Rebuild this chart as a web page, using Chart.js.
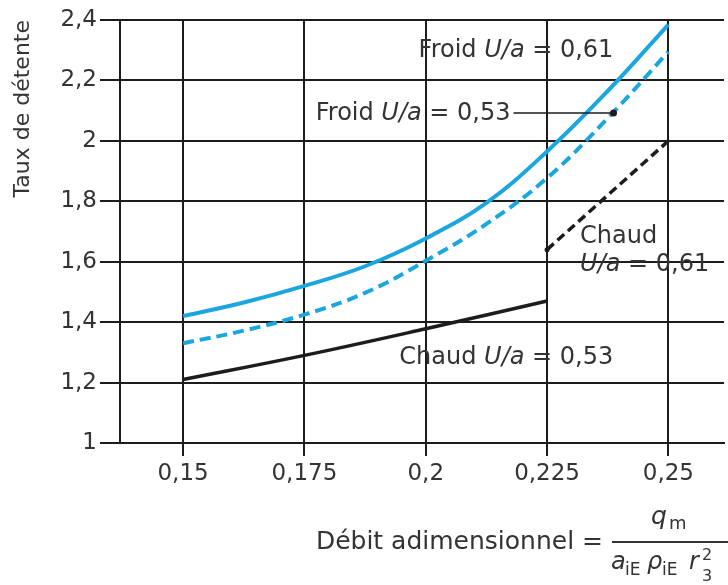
<!DOCTYPE html>
<html>
<head>
<meta charset="utf-8">
<script src="https://cdn.jsdelivr.net/npm/chart.js@4.4.0/dist/chart.umd.min.js"></script>
<style>
  body { margin: 0; background: #fff; }
  canvas { display: block; }
</style>
</head>
<body>
<canvas id="chart" width="728" height="585"></canvas>
<script>
// débit adimensionnel (x) / taux de détente (y)
const debitFroid = [0.15, 0.1625, 0.175, 0.1875, 0.2, 0.2125, 0.225, 0.2375, 0.25];
const froid061 = [1.42, 1.465, 1.52, 1.585, 1.677, 1.795, 1.965, 2.165, 2.385];
const froid053 = [1.33, 1.372, 1.425, 1.497, 1.603, 1.725, 1.877, 2.075, 2.295];
const debitChaud053 = [0.15, 0.175, 0.2, 0.225];
const chaud053 = [1.21, 1.29, 1.378, 1.47];
const debitChaud061 = [0.225, 0.25];
const chaud061 = [1.64, 2.0];

const xTicks = [0.15, 0.175, 0.2, 0.225, 0.25];
const xTickLabels = ["0,15", "0,175", "0,2", "0,225", "0,25"];
const yTicks = [1, 1.2, 1.4, 1.6, 1.8, 2, 2.2, 2.4];
const yTickLabels = ["1", "1,2", "1,4", "1,6", "1,8", "2", "2,2", "2,4"];

const CYAN = "#1ca6de";
const NOIR = "#1c1c1c";
const TEXTE = "#333333";
const POLICE = '"DejaVu Sans"';

function points(xs, ys) {
  return xs.map((x, i) => ({ x: x, y: ys[i] }));
}

// étiquettes des courbes (en coordonnées du graphique)
const etiquettes = [
  { x: 0.2186, y: 2.297, align: "center", runs: [["Froid ", 0], ["U/a", 1], [" = 0,61", 0]] },
  { x: 0.1974, y: 2.089, align: "center", runs: [["Froid ", 0], ["U/a", 1], [" = 0,53", 0]], repere: { x: 0.2387, y: 2.092 } },
  { x: 0.2318, y: 1.682, align: "left", runs: [["Chaud", 0]] },
  { x: 0.2318, y: 1.589, align: "left", runs: [["U/a", 1], [" = 0,61", 0]] },
  { x: 0.2166, y: 1.281, align: "center", runs: [["Chaud ", 0], ["U/a", 1], [" = 0,53", 0]] },
];

function police(taille, italique) {
  return (italique ? "italic " : "") + taille + "px " + POLICE;
}

function ecrire(ctx, runs, x, y, align, taille) {
  let total = 0;
  runs.forEach(([t, it]) => {
    ctx.font = police(taille, it);
    total += ctx.measureText(t).width;
  });
  let cx = align === "center" ? x - total / 2 : align === "right" ? x - total : x;
  ctx.textAlign = "left";
  ctx.textBaseline = "middle";
  runs.forEach(([t, it]) => {
    ctx.font = police(taille, it);
    ctx.fillText(t, cx, y);
    cx += ctx.measureText(t).width;
  });
  return cx;
}

const annotations = {
  id: "annotations",
  afterDraw(chart) {
    const ctx = chart.ctx;
    const sx = chart.scales.x;
    const sy = chart.scales.y;
    ctx.save();
    ctx.fillStyle = TEXTE;

    etiquettes.forEach((e) => {
      const fin = ecrire(ctx, e.runs, sx.getPixelForValue(e.x), sy.getPixelForValue(e.y), e.align, 24);
      if (e.repere) {
        const px = sx.getPixelForValue(e.repere.x);
        const py = sy.getPixelForValue(e.repere.y);
        ctx.strokeStyle = NOIR;
        ctx.lineWidth = 1.5;
        ctx.beginPath();
        ctx.moveTo(fin + 3, py);
        ctx.lineTo(px, py);
        ctx.stroke();
        ctx.fillStyle = NOIR;
        ctx.beginPath();
        ctx.arc(px, py, 3.5, 0, Math.PI * 2);
        ctx.fill();
        ctx.fillStyle = TEXTE;
      }
    });

    // titre de l'axe x avec la fraction
    ecrire(ctx, [["Débit adimensionnel =", 0]], 603, 542, "right", 25);
    ctx.strokeStyle = TEXTE;
    ctx.lineWidth = 2;
    ctx.beginPath();
    ctx.moveTo(612, 542);
    ctx.lineTo(740, 542);
    ctx.stroke();

    ctx.textBaseline = "alphabetic";
    ctx.textAlign = "left";
    ctx.font = police(25, true);
    ctx.fillText("q", 651, 524);
    ctx.font = police(18, false);
    ctx.fillText("m", 669, 529);

    ctx.font = police(24, true);
    ctx.fillText("a", 611, 569);
    ctx.font = police(17, false);
    ctx.fillText("iE", 625, 575);
    ctx.font = police(24, true);
    ctx.fillText("ρ", 647, 569);
    ctx.font = police(17, false);
    ctx.fillText("iE", 662, 575);
    ctx.font = police(24, true);
    ctx.fillText("r", 689, 569);
    ctx.font = police(16, false);
    ctx.fillText("2", 702, 560);
    ctx.fillText("3", 702, 581);
    ctx.restore();
  },
};

Chart.defaults.font.family = POLICE;
Chart.defaults.color = TEXTE;

new Chart(document.getElementById("chart"), {
  type: "scatter",
  data: {
    datasets: [
      {
        label: "Froid U/a = 0,61",
        data: points(debitFroid, froid061),
        showLine: true,
        borderColor: CYAN,
        borderWidth: 4,
        tension: 0.4,
        pointRadius: 0,
      },
      {
        label: "Froid U/a = 0,53",
        data: points(debitFroid, froid053),
        showLine: true,
        borderColor: CYAN,
        borderWidth: 4,
        borderDash: [11, 6],
        tension: 0.4,
        pointRadius: 0,
      },
      {
        label: "Chaud U/a = 0,53",
        data: points(debitChaud053, chaud053),
        showLine: true,
        borderColor: NOIR,
        borderWidth: 3.5,
        tension: 0.4,
        pointRadius: 0,
      },
      {
        label: "Chaud U/a = 0,61",
        data: points(debitChaud061, chaud061),
        showLine: true,
        borderColor: NOIR,
        borderWidth: 3.5,
        borderDash: [9, 5],
        pointRadius: [2.5, 0],
        pointBackgroundColor: NOIR,
        pointBorderWidth: 0,
      },
    ],
  },
  options: {
    responsive: false,
    animation: false,
    clip: false,
    layout: { padding: { top: 20, right: 0, bottom: 0, left: 0 } },
    plugins: {
      legend: { display: false },
      tooltip: { enabled: false },
    },
    scales: {
      x: {
        type: "linear",
        min: 0.137,
        max: 0.26146,
        afterBuildTicks: (s) => {
          s.ticks = xTicks.map((v) => ({ value: v }));
        },
        afterFit: (s) => {
          s.height = 142;
        },
        grid: { color: NOIR, lineWidth: 2, tickLength: 13 },
        border: { color: NOIR, width: 2 },
        ticks: {
          callback: (v, i) => xTickLabels[i],
          font: { size: 23 },
          color: TEXTE,
          padding: 4,
          maxRotation: 0,
          autoSkip: false,
        },
      },
      y: {
        min: 1,
        max: 2.4,
        afterBuildTicks: (s) => {
          s.ticks = yTicks.map((v) => ({ value: v }));
        },
        afterFit: (s) => {
          s.width = 120;
        },
        grid: { color: NOIR, lineWidth: 2, tickLength: 20 },
        border: { color: NOIR, width: 2 },
        ticks: {
          callback: (v, i) => yTickLabels[i],
          font: { size: 23 },
          color: TEXTE,
          padding: 3,
          autoSkip: false,
        },
        title: {
          display: true,
          text: "Taux de détente",
          align: "end",
          color: TEXTE,
          font: { size: 22 },
          padding: { top: 10, bottom: 0 },
        },
      },
    },
  },
  plugins: [annotations],
});
</script>
</body>
</html>
